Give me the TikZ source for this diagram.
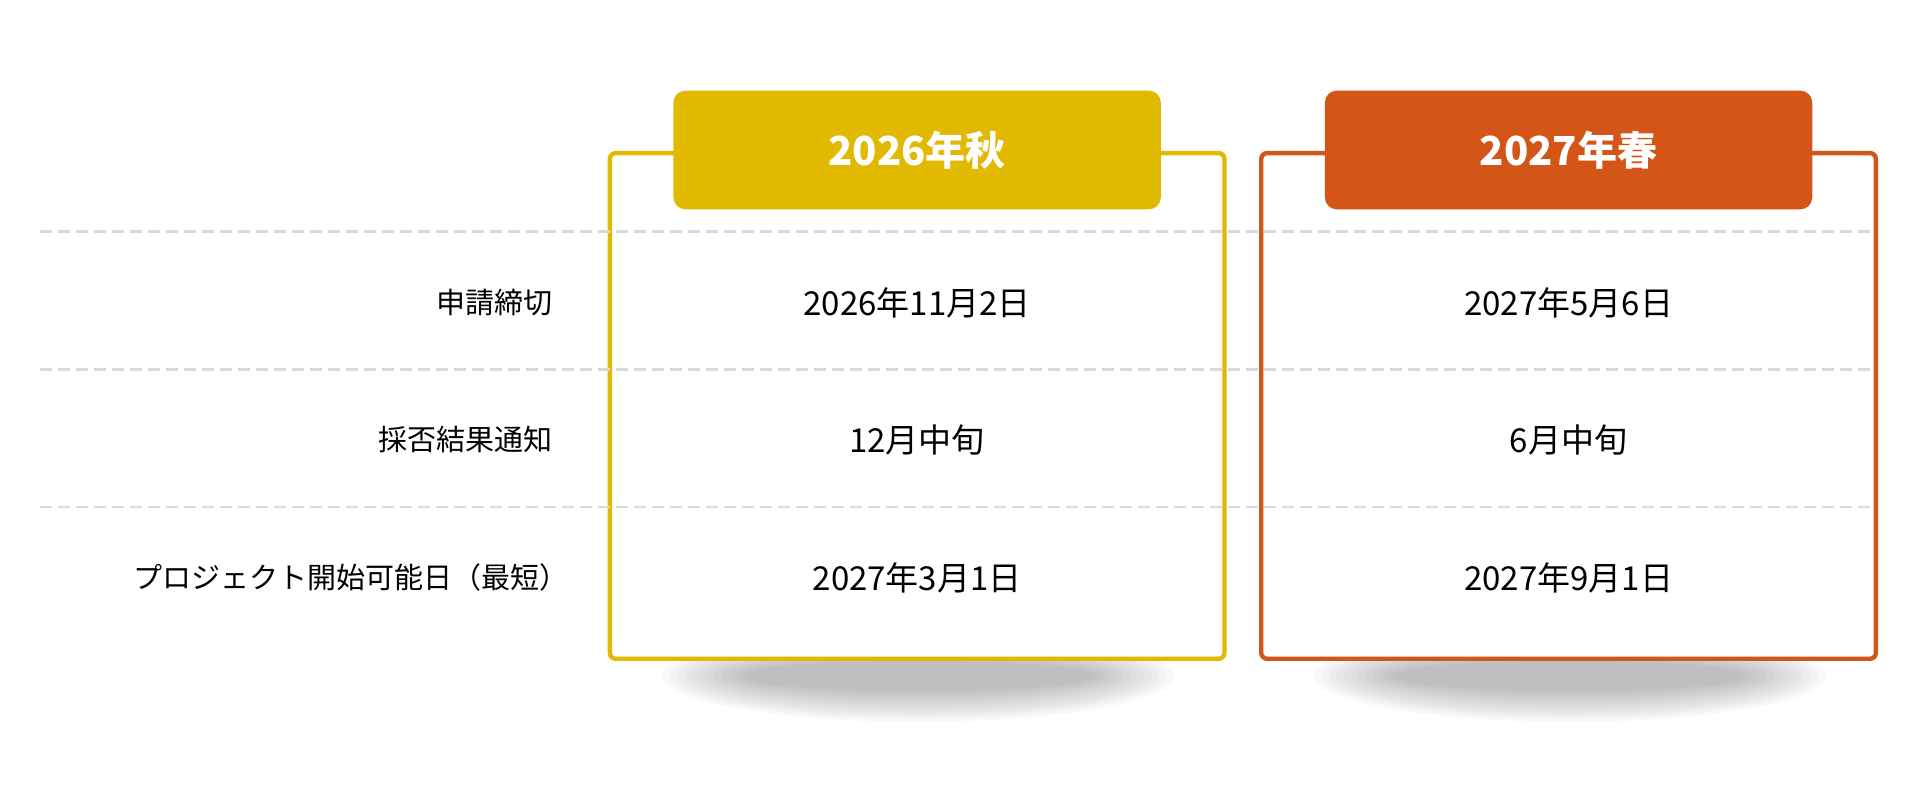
\documentclass[tikz,border=0pt]{standalone}
\usepackage{fontspec}
\setmainfont{Noto Sans CJK JP}
\usetikzlibrary{positioning}
\definecolor{autumn}{HTML}{E0B900}
\definecolor{spring}{HTML}{D35517}
\definecolor{rule}{HTML}{D9D9D9}
\begin{document}
\begin{tikzpicture}[x=0.6123pt,y=-0.6123pt,
  card/.style={draw=#1,line width=2.2pt,rounded corners=3pt,fill=white},
  tab/.style={fill=#1,rounded corners=6pt},
  head/.style={text=white,font=\fontsize{20}{24}\selectfont\bfseries},
  cell/.style={font=\fontsize{16.5}{20}\selectfont},
  label/.style={font=\fontsize{14.5}{18}\selectfont,anchor=east},
  sep/.style={draw=rule,line width=1.4pt,dash pattern=on 6pt off 3pt}]
\useasboundingbox (0,0) rectangle (1568,653);
% shadows
\foreach \cx in {750,1282}{
  \foreach \i in {1,...,12}
    \fill[black,opacity=0.025] (\cx,552) ellipse ({215-\i*6} and {40-\i*2.3});
}
% cards
\draw[card=autumn] (498,125) rectangle (1000,538);
\draw[card=spring] (1030,125) rectangle (1532,538);
\fill[tab=autumn] (550,74) rectangle (948,171);
\fill[tab=spring] (1082,74) rectangle (1480,171);
\node[head] (hA) at (749,123) {2026年秋};
\node[head] (hB) at (1281,123) {2027年春};
% rules
\foreach \y in {189,302,414}
  \draw[sep] (33,\y) -- (1528,\y);
% row labels
\node[label] (r1) at (457,247) {申請締切};
\node[label] (r2) at (457,359) {採否結果通知};
\node[label] (r3) at (470,472) {プロジェクト開始可能日（最短）};
% cells
\node[cell] (a1) at (749,247) {2026年11月2日};
\node[cell] (a2) at (749,359) {12月中旬};
\node[cell] (a3) at (749,472) {2027年3月1日};
\node[cell] (b1) at (1281,247) {2027年5月6日};
\node[cell] (b2) at (1281,359) {6月中旬};
\node[cell] (b3) at (1281,472) {2027年9月1日};
\end{tikzpicture}
\end{document}
